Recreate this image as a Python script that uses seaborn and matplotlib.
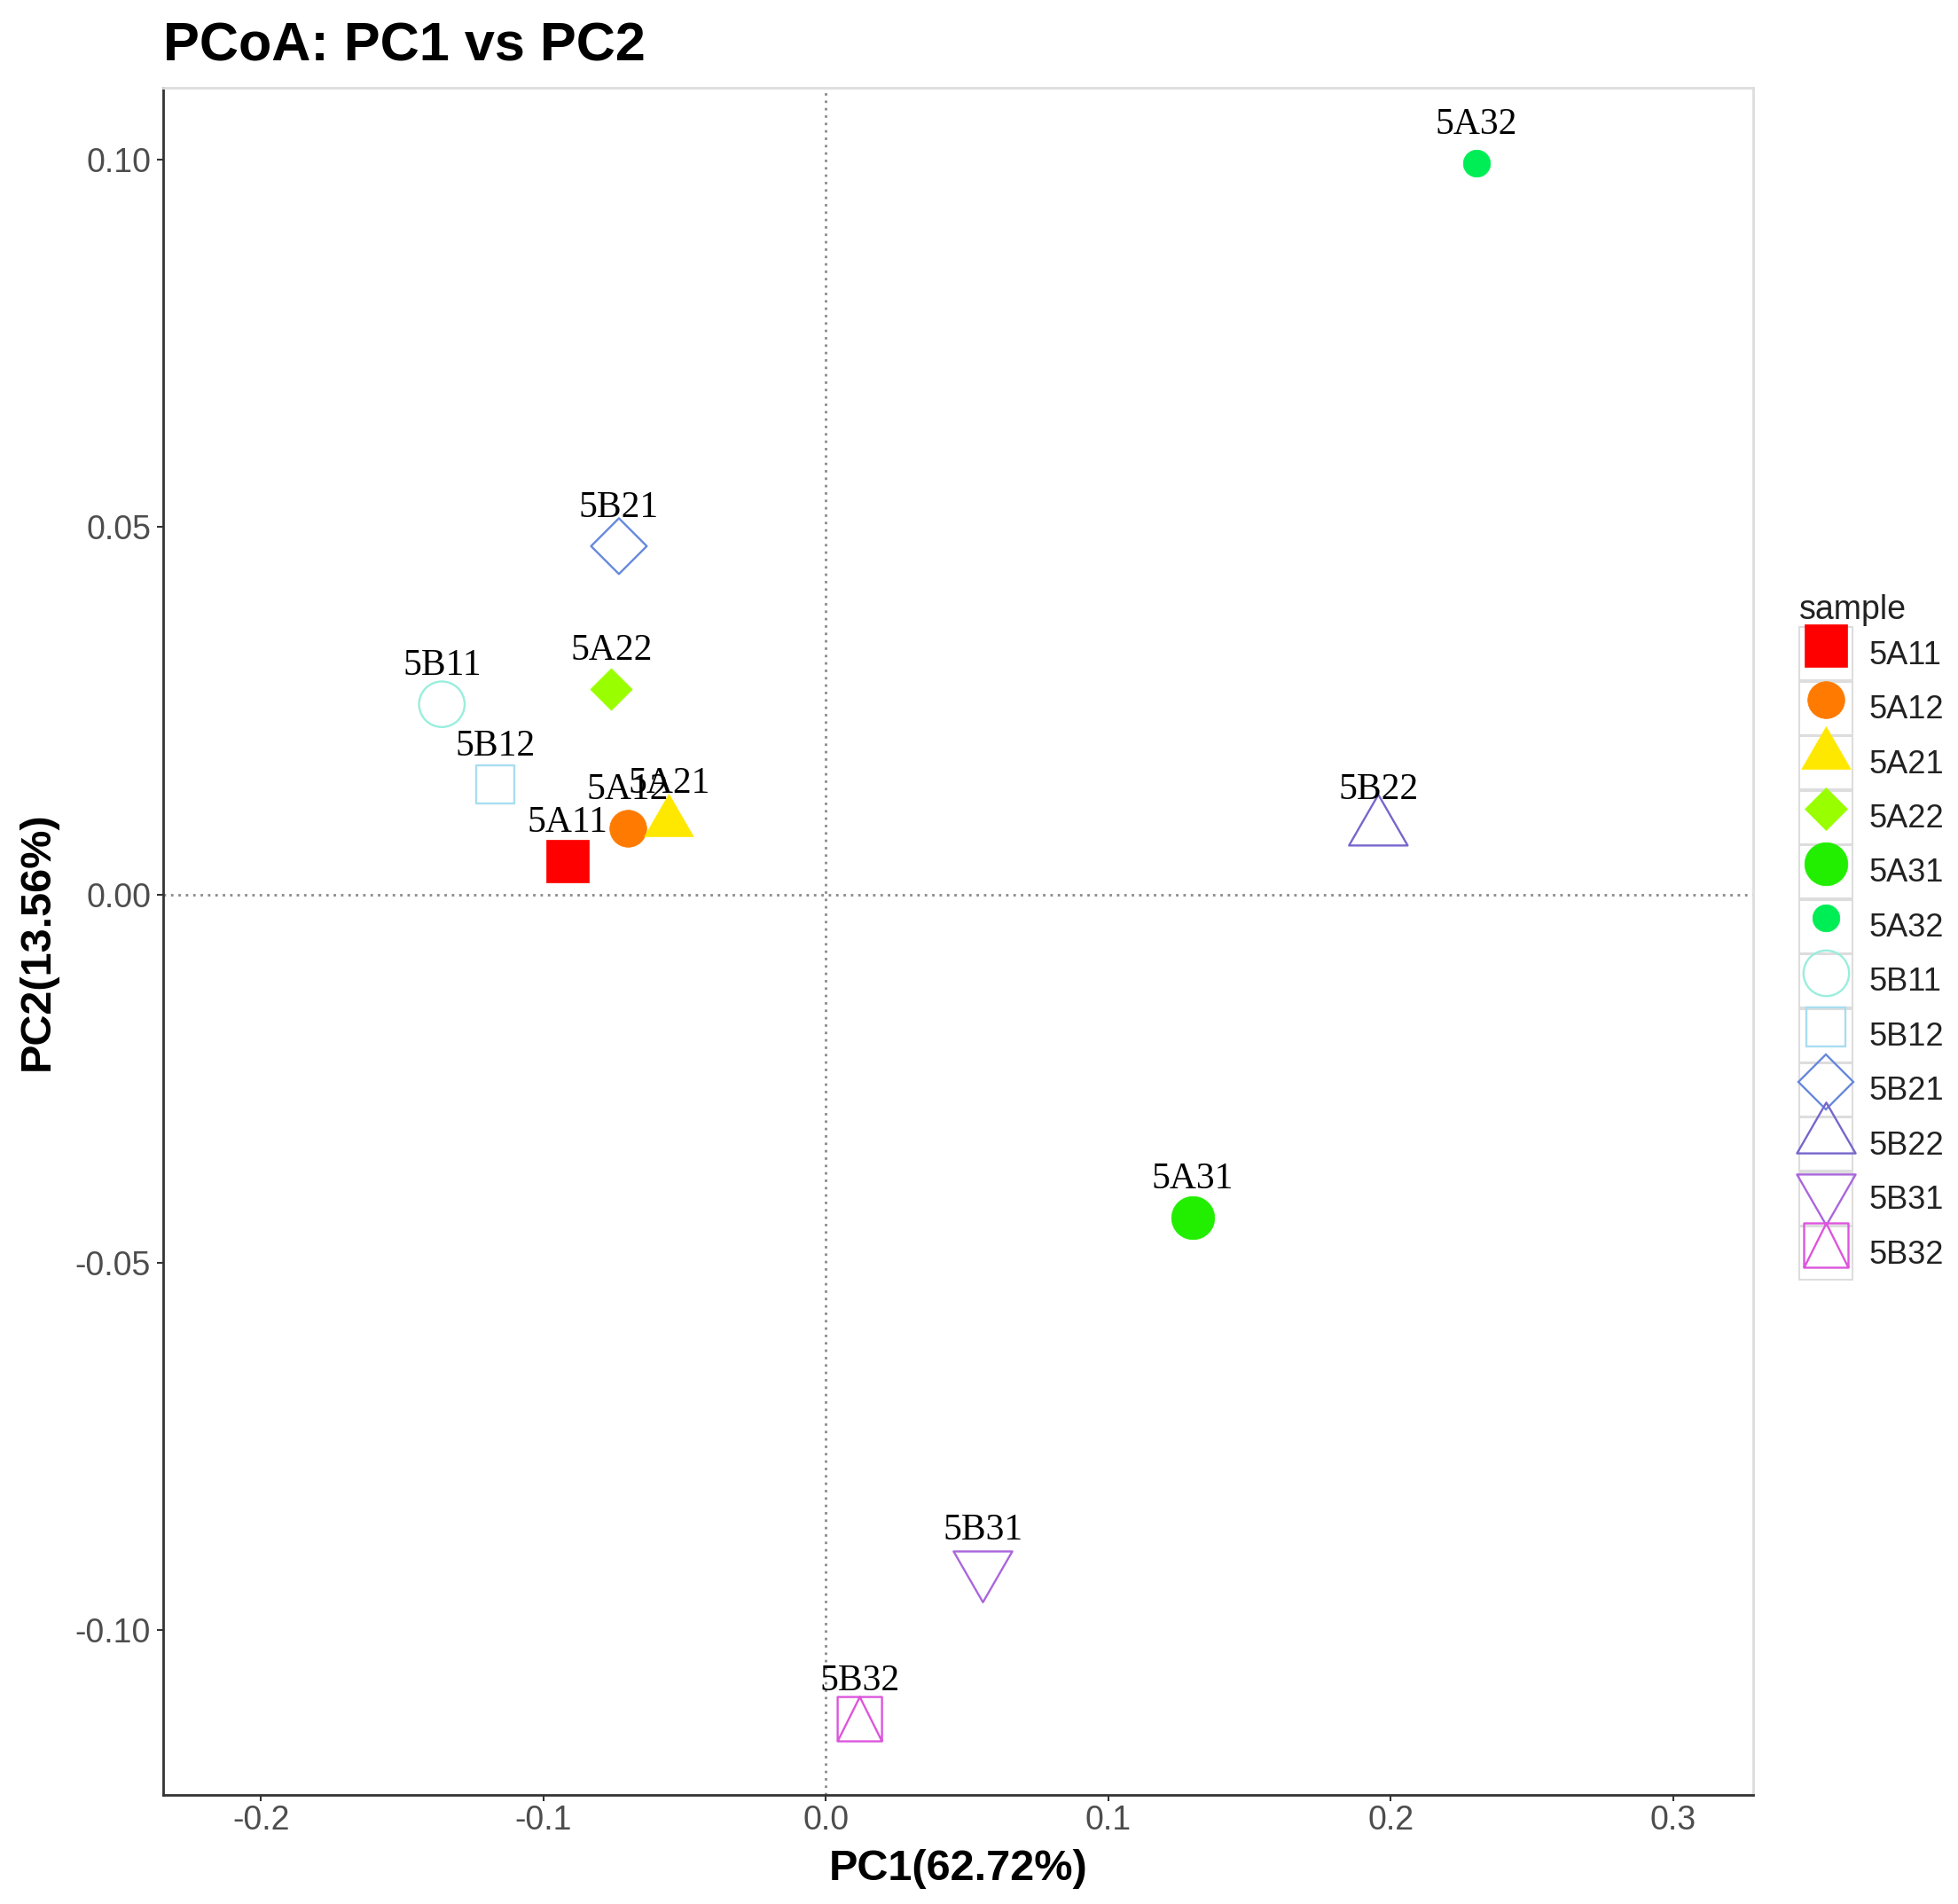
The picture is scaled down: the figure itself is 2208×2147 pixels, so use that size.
import matplotlib.pyplot as plt
import pandas as pd
import seaborn as sns
from matplotlib.legend_handler import HandlerTuple
from matplotlib.lines import Line2D
from matplotlib.patches import Rectangle
from matplotlib.path import Path

# PCoA coordinates
samples = ["5A11", "5A12", "5A21", "5A22", "5A31", "5A32",
           "5B11", "5B12", "5B21", "5B22", "5B31", "5B32"]
pc1 = [-0.0916, -0.0702, -0.0556, -0.0760, 0.1298, 0.2302,
       -0.1360, -0.1170, -0.0733, 0.1956, 0.0556, 0.0120]
pc2 = [0.0046, 0.0090, 0.0099, 0.0280, -0.0439, 0.0995,
       0.0259, 0.0150, 0.0474, 0.0090, -0.0916, -0.1121]
colors = ["#FF0000", "#FF7A00", "#FFE800", "#99FF00", "#22EE00", "#00EE55",
          "#99EEDD", "#A8DDF0", "#6688DD", "#7766CC", "#AA66DD", "#DD55DD"]

x_ticks = [-0.2, -0.1, 0.0, 0.1, 0.2, 0.3]
y_ticks = [-0.10, -0.05, 0.00, 0.05, 0.10]

# ggplot-ish marker shapes
C = Path.CLOSEPOLY
M = Path.MOVETO
L = Path.LINETO
tri_up = Path([(-1, -0.5774), (1, -0.5774), (0, 1.1547), (-1, -0.5774)], [M, L, L, C])
tri_down = Path([(-1, 0.5774), (1, 0.5774), (0, -1.1547), (-1, 0.5774)], [M, L, L, C])
sq_tri = Path([(-1, -1), (1, -1), (1, 1), (-1, 1), (-1, -1), (-1, -1), (0, 1), (1, -1)],
              [M, L, L, L, C, M, L, L])

# marker, size (pt), filled
shapes = {
    "5A11": ("s", 34, True),
    "5A12": ("o", 30, True),
    "5A21": (tri_up, 46, True),
    "5A22": ("D", 24, True),
    "5A31": ("o", 35, True),
    "5A32": ("o", 22, True),
    "5B11": ("o", 37, False),
    "5B12": ("s", 31, False),
    "5B21": ("D", 32, False),
    "5B22": (tri_up, 55, False),
    "5B31": (tri_down, 55, False),
    "5B32": (sq_tri, 36, False),
}

df = pd.DataFrame({"sample": samples, "pc1": pc1, "pc2": pc2, "color": colors})

sns.set_theme(style="white")
plt.rcParams["font.family"] = ["Liberation Sans", "DejaVu Sans"]

fig = plt.figure(figsize=(22.08, 21.47), dpi=100)
ax = fig.add_axes([0.0833, 0.0573, 0.8122, 0.8965])

ax.axhline(0, color="#8A8A8A", lw=2.0, ls=(0, (1, 2)), zorder=1)
ax.axvline(0, color="#8A8A8A", lw=2.0, ls=(0, (1, 2)), zorder=1)

handles = []
for i, row in df.iterrows():
    m, ms, filled = shapes[row["sample"]]
    sub = df.iloc[[i]]
    if filled:
        sns.scatterplot(data=sub, x="pc1", y="pc2", marker=m, s=ms ** 2,
                        color=row["color"], edgecolor=row["color"], linewidth=0.5,
                        ax=ax, legend=False, zorder=3)
    else:
        sns.scatterplot(data=sub, x="pc1", y="pc2", marker=m, s=ms ** 2,
                        facecolor="none", edgecolor=row["color"], linewidth=1.7,
                        ax=ax, legend=False, zorder=3)
    ax.text(row["pc1"], row["pc2"] + 0.0052, row["sample"], ha="center", va="center",
            fontsize=30, family=["Liberation Serif", "DejaVu Serif"], color="black", zorder=4)
    key = Rectangle((0, 0), 1, 1, facecolor="white", edgecolor="#DDDDDD", lw=1.5)
    mk = Line2D([], [], ls="none", marker=m, markersize=ms,
                color=row["color"], mfc=row["color"] if filled else "none",
                mec=row["color"], mew=0.5 if filled else 1.7)
    handles.append((key, mk))

ax.set_xlim(-0.2347, 0.3284)
ax.set_ylim(-0.1224, 0.1097)
ax.set_xticks(x_ticks)
ax.set_xticklabels([f"{t:.1f}" for t in x_ticks])
ax.set_yticks(y_ticks)
ax.set_yticklabels([f"{t:.2f}" for t in y_ticks])
ax.tick_params(axis="both", which="major", direction="out", length=5, width=1.5,
               color="#333333", labelsize=27, labelcolor="#4D4D4D", pad=5,
               bottom=True, left=True)
ax.tick_params(axis="x", pad=3)

for side in ["left", "bottom"]:
    ax.spines[side].set_color("#333333")
    ax.spines[side].set_linewidth(2.0)
for side in ["top", "right"]:
    ax.spines[side].set_color("#DDDDDD")
    ax.spines[side].set_linewidth(2.0)

ax.set_xlabel("PC1(62.72%)", fontsize=35, fontweight="bold", color="black", labelpad=10)
ax.set_ylabel("PC2(13.56%)", fontsize=35, fontweight="bold", color="black", labelpad=14)
ax.set_title("PCoA: PC1 vs PC2", loc="left", fontsize=44, fontweight="bold",
             color="black", pad=22)

leg = fig.legend(handles, samples, handler_map={tuple: HandlerTuple(ndivide=1, pad=0)},
                 loc="upper left", bbox_to_anchor=(0.919, 0.688), frameon=False,
                 title="sample", title_fontsize=27, fontsize=26,
                 handlelength=1.66, handleheight=2.18, labelspacing=0.04,
                 handletextpad=0.5, borderpad=0, borderaxespad=0, alignment="left")
for t in leg.get_texts():
    t.set_color("#222222")
leg.get_title().set_color("#222222")

fig.savefig("out.png", dpi=100)
